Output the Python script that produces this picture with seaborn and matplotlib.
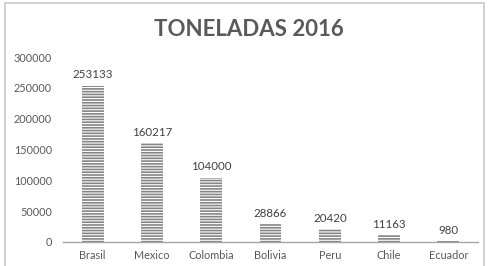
import matplotlib
matplotlib.use("Agg")
import matplotlib.pyplot as plt
import seaborn as sns
import pandas as pd
from matplotlib.patches import Rectangle

# datos del grafico
paises = ["Brasil", "Mexico", "Colombia", "Bolivia", "Peru", "Chile", "Ecuador"]
toneladas = [253133, 160217, 104000, 28866, 20420, 11163, 980]
yticks = [0, 50000, 100000, 150000, 200000, 250000, 300000]

df = pd.DataFrame({"pais": paises, "toneladas": toneladas})

sns.set_style("white")
plt.rcParams["font.family"] = ["Lato", "DejaVu Sans"]
plt.rcParams["hatch.color"] = "#b8b8b8"
plt.rcParams["hatch.linewidth"] = 0.8

fig = plt.figure(figsize=(4.88, 2.66), dpi=100)
# marco gris del grafico
fig.patches.append(Rectangle((5 / 488, -0.05), 479 / 488, 1.05 - 3 / 266,
                             transform=fig.transFigure, fill=False,
                             edgecolor="#c8c8c8", linewidth=1.2))

ax = fig.add_axes([63 / 488, 1 - 242 / 266, 415 / 488, 185 / 266])
sns.barplot(data=df, x="pais", y="toneladas", ax=ax, color="#858585",
            width=0.37, saturation=1)
for p in ax.patches:
    p.set_hatch("------")
    p.set_linewidth(0)

for c in ax.containers:
    ax.bar_label(c, labels=[str(v) for v in toneladas], padding=4,
                 fontsize=8.3, color="#404040")

ax.set_ylim(0, 300000)
ax.set_yticks(yticks)
ax.set_yticklabels([str(t) for t in yticks])
ax.set_xlim(-0.5, len(paises) - 0.5)
ax.set_xlabel("")
ax.set_ylabel("")
sns.despine(ax=ax, left=True, top=True, right=True)
ax.spines["bottom"].set_color("#a6a6a6")
ax.spines["bottom"].set_linewidth(1.0)
ax.tick_params(axis="both", length=0, labelsize=7.8, labelcolor="#595959")
ax.tick_params(axis="y", pad=8)
ax.tick_params(axis="x", pad=6)

fig.text(249 / 488, 1 - 30 / 266, "TONELADAS 2016", ha="center", va="center",
         fontsize=16, fontweight="bold", color="#595959")

fig.savefig("out.png", dpi=100)
